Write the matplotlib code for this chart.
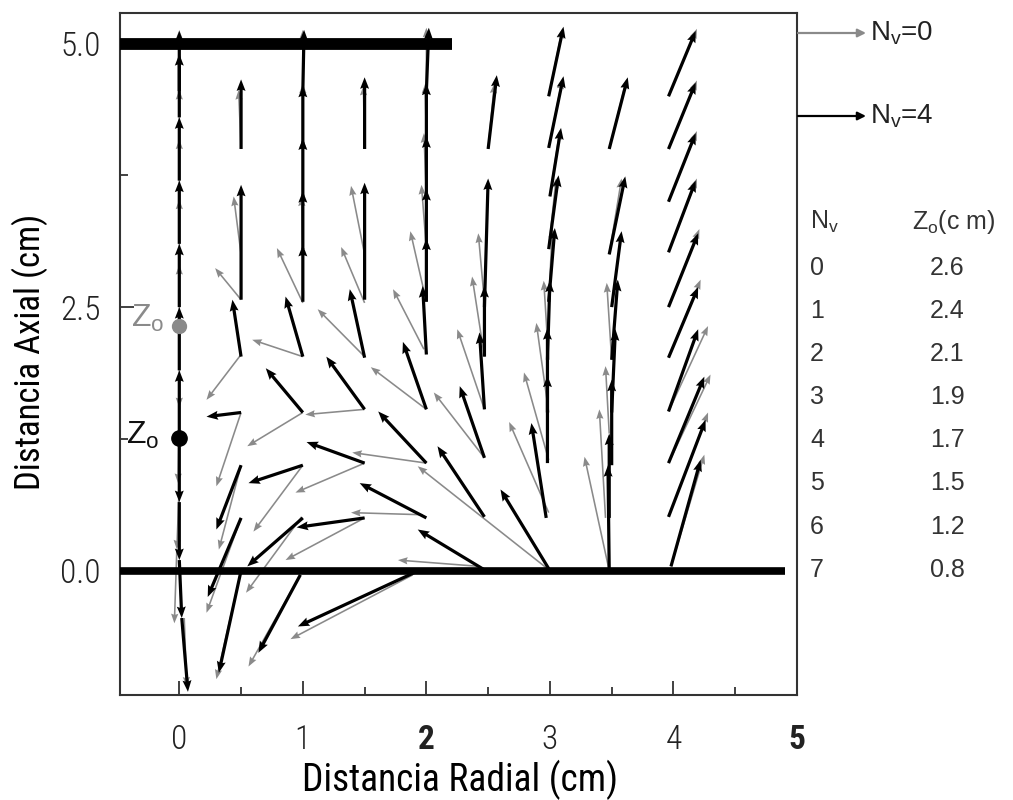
"""Velocity field for N_v = 0 and N_v = 4 (radial vs axial distance)."""

import matplotlib

matplotlib.use("Agg")
import numpy as np
from matplotlib import pyplot as plt

NARROW = ["Liberation Sans Narrow", "Roboto Condensed", "Roboto", "DejaVu Sans"]
PLAIN = ["Liberation Sans", "DejaVu Sans"]
GRAY = "#8a8a8a"

# arrows: (tail x, tail y, head x, head y) in cm
black_arrows = [
    # r = 0
    (0.0, 1.30, 0.0, 1.90), (0.0, 1.90, 0.0, 2.50), (0.0, 2.50, 0.0, 3.10),
    (0.0, 3.10, 0.0, 3.70), (0.0, 3.70, 0.0, 4.30), (0.0, 4.30, 0.0, 4.90),
    (0.0, 4.55, 0.0, 5.12), (0.0, 1.20, 0.0, 0.65), (0.0, 0.65, 0.0, 0.10),
    (0.0, 0.10, 0.02, -0.45), (0.02, -0.45, 0.07, -1.15),
    # r = 0.5
    (0.5, 4.00, 0.5, 4.66), (0.5, 2.57, 0.5, 3.66), (0.5, 2.03, 0.43, 2.57),
    (0.5, 1.50, 0.22, 1.46), (0.5, 1.00, 0.30, 0.39), (0.5, 0.50, 0.23, -0.25),
    (0.5, 0.00, 0.32, -0.97),
    # r = 1
    (1.0, 4.55, 1.01, 5.13), (1.0, 4.05, 1.0, 4.60), (1.0, 3.55, 1.0, 4.10),
    (1.0, 3.05, 1.0, 3.60), (1.0, 2.55, 1.0, 3.09), (1.0, 2.03, 0.86, 2.60),
    (1.0, 1.50, 0.70, 1.92), (1.0, 1.00, 0.56, 0.83), (1.0, 0.50, 0.55, 0.04),
    (0.98, -0.04, 0.64, -0.78),
    # r = 1.5
    (1.5, 4.00, 1.5, 4.68), (1.5, 2.57, 1.5, 3.68), (1.5, 2.02, 1.38, 2.67),
    (1.5, 1.53, 1.19, 2.03), (1.5, 1.02, 1.03, 1.22), (1.5, 0.50, 0.95, 0.41),
    (1.9, -0.02, 0.96, -0.53),
    # r = 2
    (2.0, 4.55, 2.02, 5.15), (2.0, 4.05, 2.0, 4.62), (2.0, 3.55, 2.0, 4.12),
    (2.0, 3.05, 2.0, 3.62), (2.0, 2.55, 2.0, 3.15), (2.0, 2.05, 1.97, 2.70),
    (2.0, 1.53, 1.81, 2.17), (2.0, 1.02, 1.61, 1.51), (2.0, 0.50, 1.46, 0.83),
    # r = 2.5
    (2.5, 4.00, 2.57, 4.70), (2.47, 2.50, 2.5, 3.72), (2.47, 2.03, 2.47, 2.70),
    (2.47, 1.53, 2.43, 2.26), (2.47, 1.07, 2.27, 1.75), (2.47, 0.51, 2.09, 1.18),
    (2.48, 0.00, 1.93, 0.39),
    # r = 3
    (2.99, 4.50, 3.11, 5.16), (2.99, 4.01, 3.11, 4.69), (3.0, 3.55, 3.09, 4.20),
    (2.99, 3.05, 3.07, 3.75), (2.99, 2.55, 3.04, 3.25), (2.98, 2.00, 3.0, 2.75),
    (2.98, 1.50, 2.98, 2.30), (2.98, 1.02, 2.98, 1.85), (2.97, 0.50, 2.85, 1.40),
    (3.0, 0.00, 2.60, 0.77),
    # r = 3.5
    (3.48, 4.00, 3.63, 4.68), (3.48, 3.00, 3.61, 3.74), (3.5, 2.50, 3.58, 3.22),
    (3.5, 2.00, 3.55, 2.76), (3.5, 1.50, 3.53, 2.29), (3.5, 1.00, 3.5, 1.81),
    (3.48, 0.50, 3.48, 1.30), (3.48, 0.00, 3.47, 1.00),
    # r = 4
    (3.96, 4.50, 4.18, 5.12), (3.96, 4.00, 4.18, 4.63), (3.96, 3.50, 4.18, 4.15),
    (3.96, 3.02, 4.18, 3.70), (3.96, 2.50, 4.20, 3.20), (3.96, 2.02, 4.20, 2.69),
    (3.96, 1.51, 4.20, 2.29), (3.96, 1.02, 4.25, 1.84), (3.96, 0.51, 4.26, 1.43),
    (3.98, 0.04, 4.22, 1.05),
]

gray_arrows = [
    # r = 0
    (0.0, 2.35, 0.0, 2.90), (0.0, 2.90, 0.0, 3.52), (0.0, 3.50, 0.0, 4.09),
    (0.0, 4.05, 0.0, 4.56), (0.0, 4.55, 0.0, 5.13), (0.0, 2.25, 0.0, 1.55),
    (0.0, 1.55, -0.01, 0.83), (0.0, 0.83, -0.02, 0.20), (-0.02, 0.20, -0.04, -0.50),
    (0.04, -0.45, 0.06, -1.10),
    # r = 0.5
    (0.5, 4.00, 0.48, 4.56), (0.5, 3.00, 0.44, 3.55), (0.5, 2.57, 0.29, 2.87),
    (0.5, 2.05, 0.22, 1.62), (0.5, 1.50, 0.30, 0.80), (0.5, 1.00, 0.32, 0.20),
    (0.5, 0.50, 0.22, -0.40), (0.5, 0.00, 0.30, -1.03),
    # r = 1
    (1.0, 4.55, 1.0, 5.13), (1.0, 4.05, 1.0, 4.62), (1.0, 3.55, 1.0, 4.10),
    (1.0, 3.00, 0.99, 3.55), (1.0, 2.54, 0.79, 3.06), (1.0, 2.03, 0.59, 2.19),
    (1.0, 1.50, 0.55, 1.18), (1.0, 1.00, 0.60, 0.37), (0.99, 0.51, 0.54, -0.21),
    (0.98, -0.04, 0.56, -0.91),
    # r = 1.5
    (1.5, 4.00, 1.49, 4.60), (1.5, 3.00, 1.39, 3.65), (1.5, 2.54, 1.31, 3.07),
    (1.5, 2.03, 1.12, 2.48), (1.5, 1.53, 1.02, 1.48), (1.5, 1.02, 0.94, 0.74),
    (1.5, 0.50, 0.86, 0.10), (1.89, -0.04, 0.90, -0.65),
    # r = 2
    (2.0, 4.55, 2.0, 5.15), (2.0, 4.05, 1.99, 4.62), (2.0, 3.55, 1.98, 4.15),
    (2.0, 3.05, 1.96, 3.66), (2.0, 2.55, 1.87, 3.22), (1.98, 2.10, 1.73, 2.67),
    (2.0, 1.53, 1.55, 1.93), (2.0, 1.02, 1.40, 1.12), (1.97, 0.53, 1.39, 0.55),
    # r = 2.5
    (2.5, 4.00, 2.55, 4.62), (2.47, 2.55, 2.42, 3.20), (2.47, 2.03, 2.37, 2.79),
    (2.47, 1.53, 2.25, 2.29), (2.47, 1.07, 2.06, 1.69), (2.43, 0.04, 1.77, 0.10),
    # r = 3
    (2.99, 4.50, 3.10, 5.14), (2.99, 4.01, 3.10, 4.66), (3.0, 3.55, 3.08, 4.18),
    (2.99, 3.05, 3.05, 3.72), (2.99, 2.55, 3.02, 3.25), (2.99, 2.00, 2.95, 2.75),
    (2.99, 1.50, 2.89, 2.35), (2.99, 1.05, 2.79, 1.88), (2.99, 0.55, 2.67, 1.41),
    (3.0, 0.00, 1.93, 0.99),
    # r = 3.5
    (3.48, 4.00, 3.62, 4.66), (3.48, 3.00, 3.58, 3.72), (3.5, 2.00, 3.46, 2.73),
    (3.48, 1.30, 3.45, 1.94), (3.45, 0.50, 3.40, 1.53), (3.48, 0.00, 3.28, 1.08),
    # r = 4
    (3.96, 4.50, 4.19, 5.14), (3.96, 4.00, 4.19, 4.65), (3.96, 3.50, 4.19, 4.17),
    (3.96, 3.02, 4.19, 3.72), (3.96, 2.50, 4.21, 3.24), (3.96, 2.02, 4.22, 2.76),
    (3.96, 1.51, 4.28, 2.32), (3.96, 1.02, 4.30, 1.86), (3.96, 0.51, 4.28, 1.50),
    (3.98, 0.04, 4.25, 1.10),
]

zo_gray = 2.32
zo_black = 1.26

nv_values = ["0", "1", "2", "3", "4", "5", "6", "7"]
zo_values = ["2.6", "2.4", "2.1", "1.9", "1.7", "1.5", "1.2", "0.8"]

x_ticks = [0, 1, 2, 3, 4, 5]
y_ticks = [0.0, 2.5, 5.0]
y_tick_labels = ["0.0", "2.5", "5.0"]


def draw_field(ax, arrows, color, width, headwidth, headlength, zorder):
    data = np.asarray(arrows, dtype=float)
    tx, ty, hx, hy = data.T
    ax.quiver(
        tx, ty, hx - tx, hy - ty,
        angles="xy", scale_units="xy", scale=1, units="dots",
        width=width, headwidth=headwidth, headlength=headlength,
        headaxislength=headlength * 0.9, color=color, zorder=zorder,
    )


def main() -> None:
    plt.rcParams["mathtext.fontset"] = "custom"
    plt.rcParams["mathtext.rm"] = "Liberation Sans"
    plt.rcParams["mathtext.it"] = "Liberation Sans:italic"

    fig = plt.figure(figsize=(10.13, 8.0), dpi=100)
    ax = fig.add_axes([120 / 1013, 105 / 800, 677 / 1013, 682 / 800])
    ax.set_xlim(-0.48, 4.96)
    ax.set_ylim(-1.18, 5.29)

    draw_field(ax, gray_arrows, GRAY, 1.6, 4.5, 6.0, 3)
    draw_field(ax, black_arrows, "black", 3.2, 2.8, 3.6, 4)

    # electrode lines
    ax.plot([-0.48, 4.9], [0, 0], color="black", lw=5.5, solid_capstyle="butt", zorder=5)
    ax.plot([-0.48, 2.21], [5.0, 5.0], color="black", lw=8.5, solid_capstyle="butt", zorder=5)

    # stagnation points
    ax.plot(0, zo_gray, "o", color=GRAY, ms=10, zorder=6)
    ax.plot(0, zo_black, "o", color="black", ms=11, zorder=6)
    ax.text(-0.39, zo_gray + 0.07, r"$\mathrm{Z_o}$", color=GRAY, fontsize=23,
            ha="left", va="center", zorder=6)
    ax.text(-0.43, zo_black + 0.02, r"$\mathrm{Z_o}$", color="#111111", fontsize=23,
            ha="left", va="center", zorder=6)

    ax.set_xticks(x_ticks)
    ax.set_xticks(np.arange(0.5, 5.0, 1.0), minor=True)
    ax.set_yticks(y_ticks)
    ax.set_yticklabels(y_tick_labels)
    ax.set_yticks([1.25, 3.75], minor=True)
    ax.tick_params(which="both", direction="in", top=False, right=False, width=1.3, color="#333333")
    ax.tick_params(which="major", length=10)
    ax.tick_params(which="minor", length=6)
    ax.tick_params(axis="x", pad=21)
    ax.tick_params(axis="y", pad=14)
    for label in ax.get_xticklabels() + ax.get_yticklabels():
        label.set_family(NARROW)
        label.set_fontsize(24)
        label.set_fontweight("light")
        label.set_color("#222222")
    for label in ax.get_xticklabels():
        if label.get_text() in ("2", "5"):
            label.set_fontweight("bold")
    for spine in ax.spines.values():
        spine.set_linewidth(1.5)
        spine.set_color("#333333")

    fig.text(460 / 1013, 1 - 780 / 800, "Distancia Radial (cm)", family=NARROW,
             fontsize=27, ha="center", va="center")
    fig.text(30 / 1013, 1 - 352 / 800, "Distancia Axial (cm)", family=NARROW,
             fontsize=25, ha="center", va="center", rotation=90)

    # legend arrows outside the axes
    for py, color, text in [(33, GRAY, "=0"), (116, "black", "=4")]:
        yf = 1 - py / 800
        ax.annotate("", xy=(866 / 1013, yf), xycoords="figure fraction",
                    xytext=(798 / 1013, yf), textcoords="figure fraction",
                    arrowprops=dict(arrowstyle="-|>", color=color, lw=1.6,
                                    mutation_scale=12, shrinkA=0, shrinkB=0),
                    annotation_clip=False)
        fig.text(870 / 1013, yf, r"$\mathrm{N_v}$" + text, family=PLAIN,
                 fontsize=20, ha="left", va="center", color="#222222")

    # table of Z_o values
    fig.text(810 / 1013, 1 - 222 / 800, r"$\mathrm{N_v}$", family=PLAIN,
             fontsize=18, ha="left", va="center", color="#333333")
    fig.text(912 / 1013, 1 - 222 / 800, r"$\mathrm{Z_o}$(c m)", family=PLAIN,
             fontsize=18, ha="left", va="center", color="#333333")
    for i, (nv, zo) in enumerate(zip(nv_values, zo_values)):
        yf = 1 - (268 + i * 43.1) / 800
        fig.text(810 / 1013, yf, nv, family=PLAIN, fontsize=18,
                 ha="left", va="center", color="#333333")
        fig.text(930 / 1013, yf, zo, family=PLAIN, fontsize=18,
                 ha="left", va="center", color="#333333")

    fig.savefig("out.png", dpi=100)
    plt.close(fig)


if __name__ == "__main__":
    main()
